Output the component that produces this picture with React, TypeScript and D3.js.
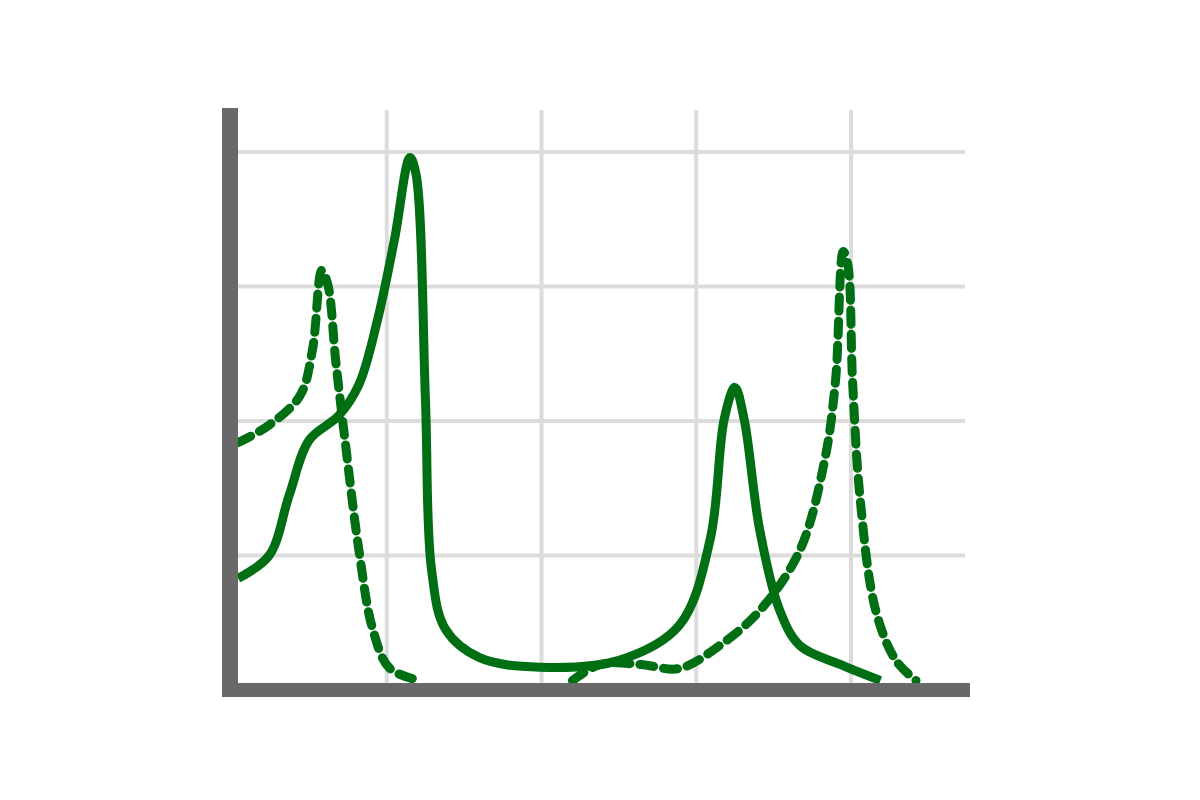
import * as d3 from 'd3'

const xTicks = [1, 2, 3, 4]
const yTicks = [1, 2, 3, 4]

const solidX = [0.04, 0.24, 0.37, 0.5, 0.69, 0.82, 0.94, 1.05, 1.15, 1.19, 1.25, 1.29, 1.38, 1.6, 1.99, 2.5, 2.89, 3.09, 3.18, 3.25, 3.31, 3.41, 3.54, 3.67, 3.93, 4.19]
const solidY = [0.83, 1.0, 1.45, 1.86, 2.04, 2.27, 2.75, 3.35, 3.96, 3.83, 2.16, 0.89, 0.45, 0.24, 0.17, 0.22, 0.48, 1.12, 2.01, 2.25, 2.01, 1.19, 0.59, 0.33, 0.19, 0.07]

const dashAX = [0.04, 0.24, 0.44, 0.52, 0.58, 0.62, 0.67, 0.73, 0.82, 0.91, 1.02, 1.22]
const dashAY = [1.84, 1.97, 2.19, 2.53, 3.12, 3.01, 2.45, 1.86, 1.04, 0.45, 0.16, 0.07]
const dashBX = [2.2, 2.38, 2.64, 2.89, 3.15, 3.41, 3.67, 3.83, 3.9, 3.95, 3.98, 4.01, 4.06, 4.16, 4.29, 4.42]
const dashBY = [0.07, 0.19, 0.19, 0.16, 0.33, 0.59, 1.04, 1.71, 2.3, 3.26, 3.16, 2.3, 1.41, 0.59, 0.22, 0.07]

const green = '#006e12'

export default function App() {
  const x = d3.scaleLinear().domain([0, 4]).range([232, 851])
  const y = d3.scaleLinear().domain([0, 4]).range([690, 152])
  const line = d3.line<[number, number]>()
    .x(d => x(d[0]))
    .y(d => y(d[1]))
    .curve(d3.curveCatmullRom)
  const zip = (xs: number[], ys: number[]) => xs.map((v, i) => [v, ys[i]] as [number, number])

  return (
    <svg width={1200} height={800} style={{ position: 'absolute', left: 0, top: 0 }}>
      <rect width={1200} height={800} fill="#fff" />
      {xTicks.map(t => (
        <line key={'x' + t} x1={x(t)} x2={x(t)} y1={110} y2={690} stroke="#dcdcdc" strokeWidth={4} />
      ))}
      {yTicks.map(t => (
        <line key={'y' + t} x1={232} x2={965} y1={y(t)} y2={y(t)} stroke="#dcdcdc" strokeWidth={4} />
      ))}
      <path d={line(zip(solidX, solidY)) || ''} fill="none" stroke={green} strokeWidth={9} strokeLinejoin="round" />
      {[zip(dashAX, dashAY), zip(dashBX, dashBY)].map((pts, i) => (
        <path key={i} d={line(pts) || ''} fill="none" stroke={green} strokeWidth={9}
          strokeDasharray="14 10" strokeLinecap="round" />
      ))}
      <line x1={230} x2={230} y1={108} y2={697} stroke="#696969" strokeWidth={16} />
      <line x1={222} x2={970} y1={690} y2={690} stroke="#696969" strokeWidth={14} />
    </svg>
  )
}
